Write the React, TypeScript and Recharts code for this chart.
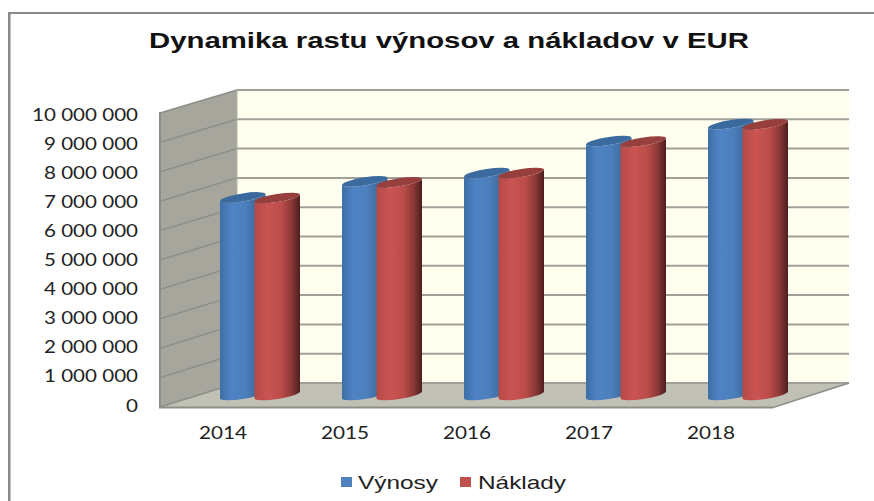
import { BarChart, Bar, XAxis, YAxis, Legend, Customized } from "recharts";

const years = ["2014", "2015", "2016", "2017", "2018"];
const vynosy = [6790000, 7340000, 7630000, 8730000, 9310000];
const naklady = [6770000, 7310000, 7630000, 8710000, 9300000];
const yTicks = [0, 1000000, 2000000, 3000000, 4000000, 5000000, 6000000, 7000000, 8000000, 9000000, 10000000];
const yMax = 10000000;

const chartData = years.map((year, i) => ({
  year,
  vynosy: vynosy[i],
  naklady: naklady[i],
}));

const formatTick = (v: number) => String(v).replace(/\B(?=(\d{3})+(?!\d))/g, " ");

// stretched text, the original was squeezed sideways into the slide
const tickLength = (s: string) => {
  const digits = s.replace(/ /g, "").length;
  return digits * 12 + (s.length - digits) * 5;
};

const tickFont = "Lato, 'Open Sans', sans-serif";
const legendFont = "'Liberation Sans', Arial, sans-serif";

const YTick = ({ x, y, payload }: any) => {
  const label = formatTick(payload.value);
  return (
    <text
      x={x - 18}
      y={y + 6.5}
      textAnchor="end"
      fontFamily={tickFont}
      fontSize={17}
      fill="#222"
      textLength={tickLength(label)}
      lengthAdjust="spacingAndGlyphs"
    >
      {label}
    </text>
  );
};

const XTick = ({ x, y, payload }: any) => (
  <text
    x={x}
    y={y + 26}
    textAnchor="middle"
    fontFamily={tickFont}
    fontSize={17}
    fill="#222"
    textLength={tickLength(payload.value)}
    lengthAdjust="spacingAndGlyphs"
  >
    {payload.value}
  </text>
);

// the box behind the bars: left wall, floor, back wall
const Walls = () => {
  const fractions = yTicks.map((t) => t / yMax);
  return (
    <g>
      <defs>
        <linearGradient id="blueBody" x1="0" y1="0" x2="1" y2="0">
          <stop offset="0%" stopColor="#3d6ea6" />
          <stop offset="25%" stopColor="#4f83c5" />
          <stop offset="55%" stopColor="#4c7fbc" />
          <stop offset="80%" stopColor="#3f6c9f" />
          <stop offset="100%" stopColor="#2f5580" />
        </linearGradient>
        <linearGradient id="redBody" x1="0" y1="0" x2="1" y2="0">
          <stop offset="0%" stopColor="#b54a47" />
          <stop offset="30%" stopColor="#cb5452" />
          <stop offset="60%" stopColor="#b94c49" />
          <stop offset="82%" stopColor="#8a3836" />
          <stop offset="100%" stopColor="#4b1e1d" />
        </linearGradient>
      </defs>
      <polygon points="237,90 849,90 849,383 237,383" fill="#fffff0" />
      <polygon points="160,113 237,90 237,383 160,407" fill="#a6a69c" />
      <polygon points="160,407 237,383 849,383 773,407" fill="#c0c0b5" />
      {fractions.map((f, i) => {
        const backY = 383 - f * 293;
        const frontY = 407 - f * 294;
        return (
          <g key={i}>
            <line x1={237} y1={backY} x2={849} y2={backY} stroke="#a0a098" strokeWidth={2} />
            <line x1={160} y1={frontY} x2={237} y2={backY} stroke="#8e8e88" strokeWidth={1.5} />
          </g>
        );
      })}
      <line x1={160} y1={112} x2={160} y2={408} stroke="#8e8e88" strokeWidth={2} />
      <line x1={159} y1={407.5} x2={773} y2={407.5} stroke="#8e8e88" strokeWidth={2} />
      <line x1={773} y1={407.5} x2={849} y2={383} stroke="#8e8e88" strokeWidth={1.5} />
      <line x1={237} y1={90} x2={237} y2={383} stroke="#b4b4aa" strokeWidth={1} />

      <rect x={9} y={12} width={870} height={2} fill="#8a8a8a" />
      <rect x={8} y={12} width={2.5} height={495} fill="#8a8a8a" />
      <text
        x={149}
        y={48}
        fontFamily={legendFont}
        fontWeight="bold"
        fontSize={22}
        fill="#111"
        textLength={600}
        lengthAdjust="spacingAndGlyphs"
      >
        Dynamika rastu výnosov a nákladov v EUR
      </text>
    </g>
  );
};

// cylinder standing in the middle of the floor depth
const DEPTH_DX = 37;
const DEPTH_DY = -10;
const TILT = 3.5;
const RY = 4.2;

const Cylinder = ({ x, y, width, height, gradient, topColor }: any) => {
  const left = x + DEPTH_DX;
  const right = left + width;
  const top = y + DEPTH_DY;
  const bottom = top + height;
  const rx = width / 2 + 0.3;
  const body =
    `M${left},${top + TILT} L${left},${bottom + TILT} ` +
    `A${rx},${RY} -9 0 0 ${right},${bottom - TILT} ` +
    `L${right},${top - TILT} ` +
    `A${rx},${RY} -9 0 1 ${left},${top + TILT} Z`;
  const cap =
    `M${left},${top + TILT} A${rx},${RY} -9 0 1 ${right},${top - TILT} ` +
    `A${rx},${RY} -9 0 1 ${left},${top + TILT} Z`;
  return (
    <g>
      <path d={body} fill={`url(#${gradient})`} />
      <path d={cap} fill={topColor} />
    </g>
  );
};

const legendSpots: Record<string, { sq: number; tx: number; len: number }> = {
  Výnosy: { sq: 341, tx: 358, len: 80 },
  Náklady: { sq: 460, tx: 478, len: 88 },
};

const LegendContent = ({ payload }: any) => (
  <svg width={874} height={41} style={{ display: "block" }}>
    {(payload || []).map((item: any) => {
      const spot = legendSpots[item.value];
      return (
        <g key={item.value}>
          <rect x={spot.sq} y={17} width={11} height={10} fill={item.color} />
          <text
            x={spot.tx}
            y={29}
            fontFamily={legendFont}
            fontSize={19}
            fill="#222"
            textLength={spot.len}
            lengthAdjust="spacingAndGlyphs"
          >
            {item.value}
          </text>
        </g>
      );
    })}
  </svg>
);

export default function App() {
  return (
    <div style={{ position: "absolute", left: 0, top: 0, width: 874, height: 501, background: "#fff", overflow: "hidden" }}>
      <BarChart
        width={874}
        height={501}
        data={chartData}
        margin={{ top: 114, right: 102, bottom: 56, left: 12 }}
        barSize={45.5}
        barGap={-11}
      >
        <Customized component={Walls} />
        <XAxis dataKey="year" axisLine={false} tickLine={false} height={40} tick={<XTick />} interval={0} />
        <YAxis
          width={150}
          domain={[0, yMax]}
          ticks={yTicks}
          axisLine={false}
          tickLine={false}
          tick={<YTick />}
          interval={0}
          tickMargin={0}
        />
        <Legend
          verticalAlign="middle"
          align="center"
          wrapperStyle={{ left: 0, top: 460, width: 874, height: 41 }}
          content={<LegendContent />}
        />
        <Bar
          dataKey="vynosy"
          name="Výnosy"
          fill="#4f81bd"
          isAnimationActive={false}
          shape={(props: any) => <Cylinder {...props} gradient="blueBody" topColor="#3a6a9e" />}
        />
        <Bar
          dataKey="naklady"
          name="Náklady"
          fill="#c0504d"
          isAnimationActive={false}
          shape={(props: any) => <Cylinder {...props} gradient="redBody" topColor="#963f3d" />}
        />
      </BarChart>
    </div>
  );
}
